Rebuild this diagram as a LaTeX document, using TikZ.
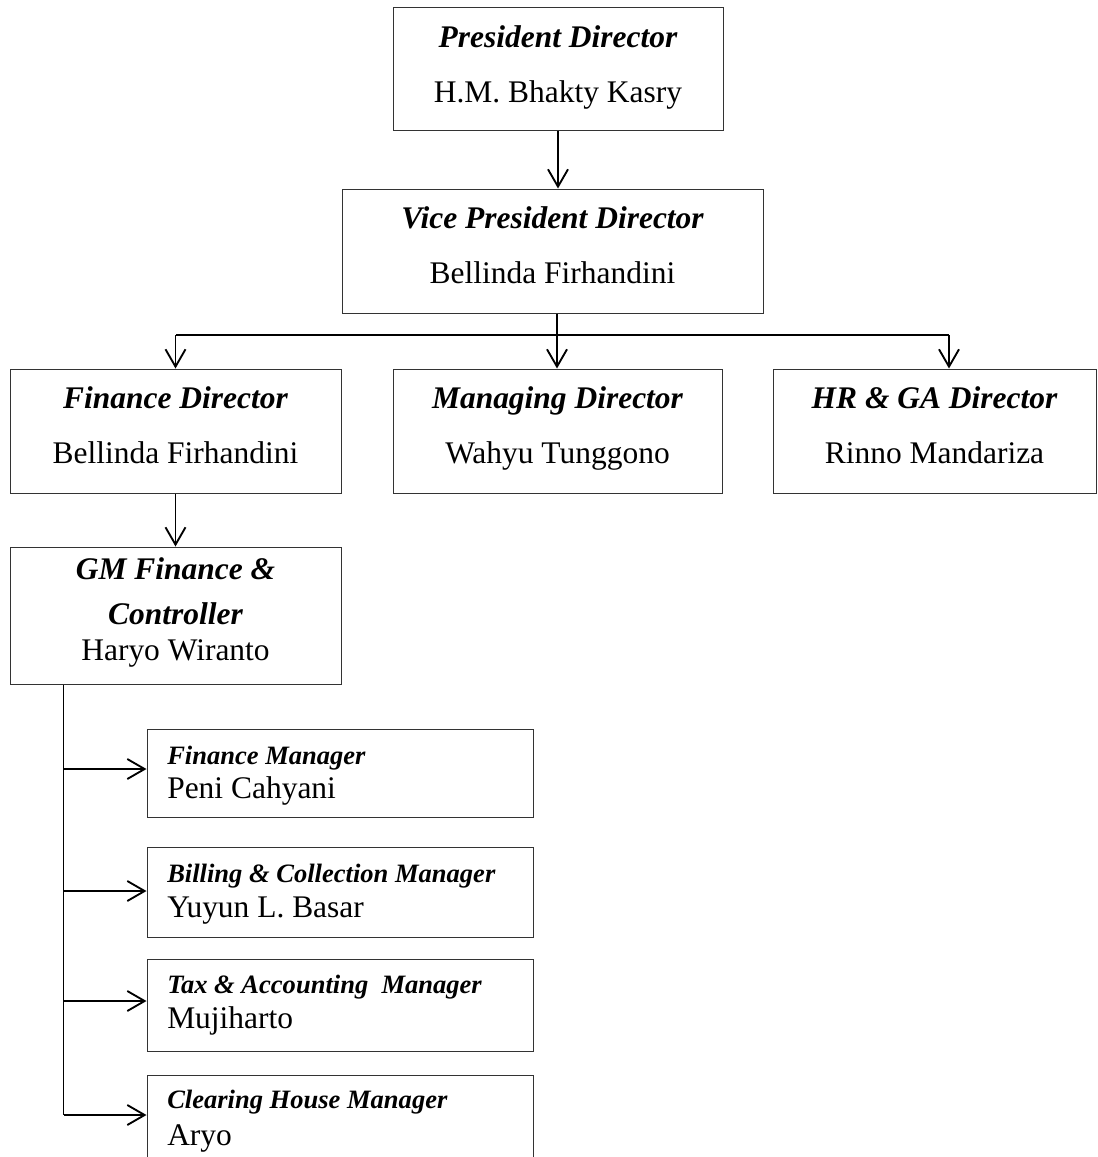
\documentclass[tikz,border=0pt]{standalone}
\usepackage{fontspec}
\setmainfont{Liberation Serif}
\usetikzlibrary{arrows.meta,calc}
\begin{document}
\begin{tikzpicture}[x=0.75pt,y=-0.75pt,
  box/.style={draw=black!80, line width=0.75pt, inner sep=0pt, rectangle},
  conn/.style={line width=1.4pt},
  arr/.style={conn, -{Straight Barb[length=13pt,width=15pt]}},
  ttl/.style={font=\fontsize{23.6}{28}\selectfont\bfseries\itshape, anchor=base, inner sep=0pt},
  nm/.style={font=\fontsize{23.6}{28}\selectfont, anchor=base, inner sep=0pt},
  mttl/.style={font=\fontsize{19.9}{24}\selectfont\bfseries\itshape, anchor=base west, inner sep=0pt},
  mnm/.style={font=\fontsize{23.6}{28}\selectfont, anchor=base west, inner sep=0pt}]
\useasboundingbox (0,0) rectangle (1097,1157);
\clip (0,0) rectangle (1097,1157);
\fill[white] (0,0) rectangle (1097,1157);

% boxes
\node[box, minimum width=330*0.75pt, minimum height=123*0.75pt] (pres) at (558,68.5) {};
\node[box, minimum width=421*0.75pt, minimum height=124*0.75pt] (vp) at (552.5,251) {};
\node[box, minimum width=331*0.75pt, minimum height=124*0.75pt] (fin) at (175.5,431) {};
\node[box, minimum width=329*0.75pt, minimum height=124*0.75pt] (mgd) at (557.5,431) {};
\node[box, minimum width=323*0.75pt, minimum height=124*0.75pt] (hr) at (934.5,431) {};
\node[box, minimum width=331*0.75pt, minimum height=137*0.75pt] (gm) at (175.5,615.5) {};
\node[box, minimum width=386*0.75pt, minimum height=88*0.75pt] (fm) at (340,773) {};
\node[box, minimum width=386*0.75pt, minimum height=90*0.75pt] (bc) at (340,892) {};
\node[box, minimum width=386*0.75pt, minimum height=92*0.75pt] (ta) at (340,1005) {};
\node[box, minimum width=386*0.75pt, minimum height=85*0.75pt] (ch) at (340,1117.5) {};

% texts
\node[ttl] (presT) at (558,47) {President Director};
\node[nm]  (presN) at (558,102) {H.M. Bhakty Kasry};
\node[ttl] (vpT) at (552.5,228) {Vice President Director};
\node[nm]  (vpN) at (552.5,283) {Bellinda Firhandini};
\node[ttl] (finT) at (175.5,408) {Finance Director};
\node[nm]  (finN) at (175.5,463) {Bellinda Firhandini};
\node[ttl] (mgdT) at (557.5,408) {Managing Director};
\node[nm]  (mgdN) at (557.5,463) {Wahyu Tunggono};
\node[ttl] (hrT) at (934.5,408) {HR \& GA Director};
\node[nm]  (hrN) at (934.5,463) {Rinno Mandariza};
\node[ttl] (gmT1) at (175.5,579) {GM Finance \&};
\node[ttl] (gmT2) at (175.5,624) {Controller};
\node[nm]  (gmN) at (175.5,660) {Haryo Wiranto};
\node[mttl] (fmT) at (167,764) {Finance Manager};
\node[mnm]  (fmN) at (167,798) {Peni Cahyani};
\node[mttl] (bcT) at (167,882) {Billing \& Collection Manager};
\node[mnm]  (bcN) at (167,917) {Yuyun L. Basar};
\node[mttl] (taT) at (167,993) {Tax \& Accounting\ \ Manager};
\node[mnm]  (taN) at (167,1028) {Mujiharto};
\node[mttl] (chT) at (167,1108) {Clearing House Manager};
\node[mnm]  (chN) at (167,1145) {Aryo};

% connectors
\coordinate (bus) at (557,335);
\draw[arr] (pres.south) -- (pres.south |- vp.north);
\draw[conn] (bus |- vp.south) -- (bus);
\draw[conn] (bus) -- (bus -| fin.north);
\draw[conn] (bus) -- (949,335);
\draw[arr] (bus -| fin.north) -- (fin.north);
\draw[arr] (bus) -- (bus |- mgd.north);
\coordinate (hrin) at ($(hr.north)+(14.5,0)$);
\draw[arr] (hrin |- bus) -- (hrin);
\draw[arr] (fin.south) -- (gm.north);
\coordinate (trunk) at ($(gm.south west)+(54,0)$);
\coordinate (fmin) at ($(fm.west)+(0,-4)$);
\coordinate (bcin) at ($(bc.west)+(0,-1)$);
\coordinate (tain) at ($(ta.west)+(0,-4)$);
\coordinate (chin) at ($(ch.west)+(0,-2.5)$);
\draw[conn] (trunk) -- (trunk |- chin);
\draw[arr] (trunk |- fmin) -- (fmin);
\draw[arr] (trunk |- bcin) -- (bcin);
\draw[arr] (trunk |- tain) -- (tain);
\draw[arr] (trunk |- chin) -- (chin);
\end{tikzpicture}
\end{document}
